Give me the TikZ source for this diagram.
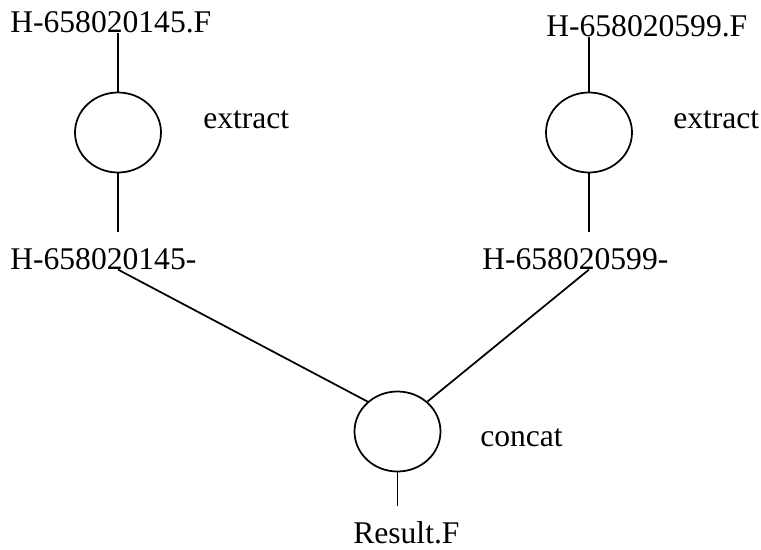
\documentclass[tikz,border=0pt]{standalone}
\usepackage{fontspec}
\setmainfont{Liberation Serif}
\usetikzlibrary{positioning,shapes.geometric}
\tikzset{
  flowop/.style={draw, ellipse, line width=1.3pt, minimum width=64.5pt,
    minimum height=60pt, inner sep=0pt},
  flowtext/.style={font=\fontsize{23.7}{28}\selectfont, inner sep=0pt, anchor=base west},
  flowline/.style={line width=1.3pt},
}

\begin{document}
\begin{tikzpicture}[x=0.75pt, y=-0.75pt]
  \useasboundingbox (0,0) rectangle (761,550);
  % inputs
  \node[flowtext] (src1) at (10,32) {H-658020145.F};
  \node[flowtext] (src2) at (546,36) {H-658020599.F};
  % extract
  \node[flowop] (ex1) at (118,132.5) {};
  \node[flowop] (ex2) at (589,132.5) {};
  \node[flowtext] (ex1lbl) at (203,128) {extract};
  \node[flowtext] (ex2lbl) at (673,128) {extract};
  \node[flowtext] (mid1) at (10,269) {H-658020145-};
  \node[flowtext] (mid2) at (482,269) {H-658020599-};
  % concat
  \node[flowop] (cat) at (397.5,431.5) {};
  \node[flowtext] (catlbl) at (480,446) {concat};
  \node[flowtext] (res) at (353,543) {Result.F};
  % lines
  \draw[flowline] (ex1.north) -- (ex1.north |- src1.south);
  \draw[flowline] (ex2.north) -- (ex2.north |- src2.south);
  \draw[flowline, shorten >=11.5pt] (ex1.south) -- (ex1.south |- mid1.north);
  \draw[flowline, shorten >=11.5pt] (ex2.south) -- (ex2.south |- mid2.north);
  \draw[flowline] (ex1.south |- mid1.south) -- (cat.135);
  \draw[flowline] (ex2.south |- mid2.south) -- (cat.45);
  \draw[flowline, shorten >=10.8pt] (cat.south) -- (cat.south |- res.north);
\end{tikzpicture}
\end{document}
